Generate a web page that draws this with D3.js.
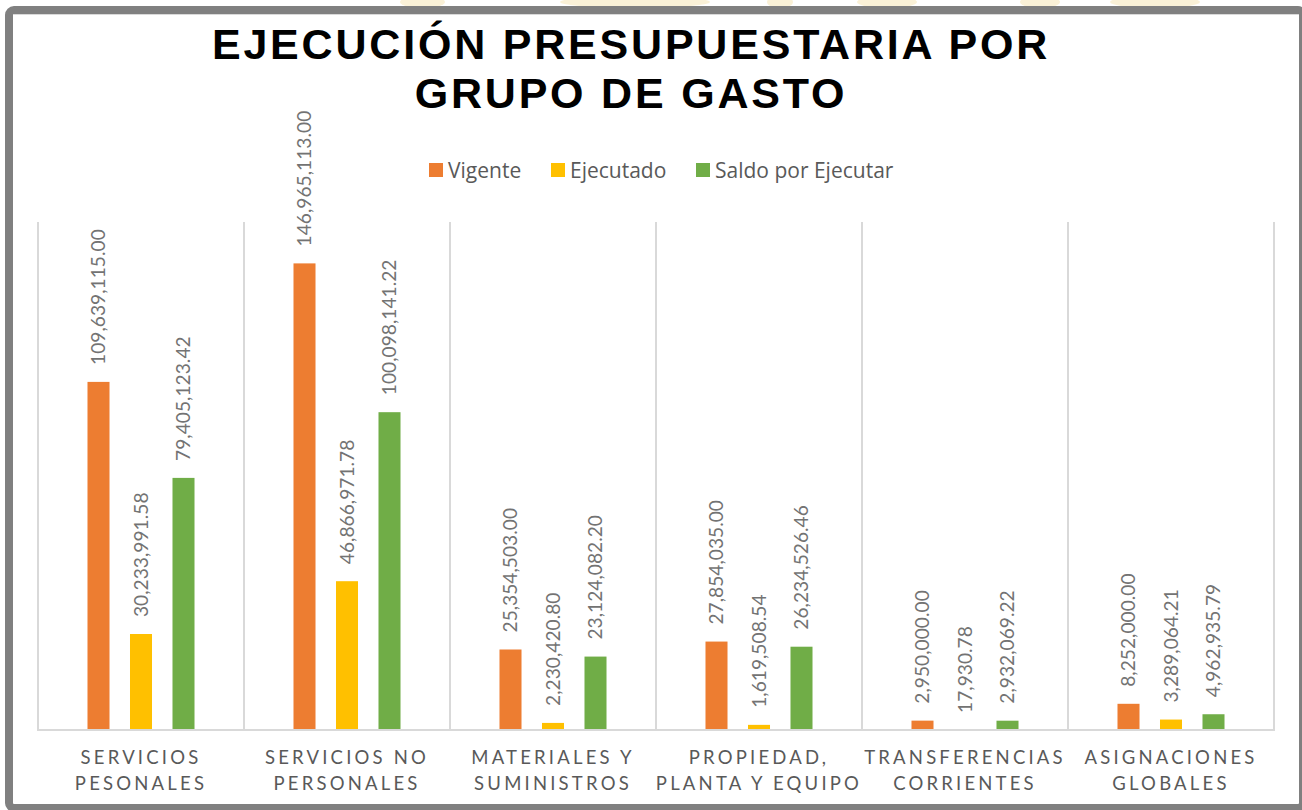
<!DOCTYPE html>
<html><head><meta charset="utf-8">
<script src="https://cdn.jsdelivr.net/npm/d3@7"></script>
<style>html,body{margin:0;padding:0;background:#fff;}svg{display:block;}</style>
</head><body>
<svg id="chart" width="1302" height="810"></svg>
<script>
const categories = [["SERVICIOS","PESONALES"],["SERVICIOS NO","PERSONALES"],["MATERIALES Y","SUMINISTROS"],["PROPIEDAD,","PLANTA Y EQUIPO"],["TRANSFERENCIAS","CORRIENTES"],["ASIGNACIONES","GLOBALES"]];
const seriesNames = ["Vigente","Ejecutado","Saldo por Ejecutar"];
const seriesColors = ["#ED7D31","#FFC000","#70AD47"];
const vigente = [109639115.00,146965113.00,25354503.00,27854035.00,2950000.00,8252000.00];
const ejecutado = [30233991.58,46866971.78,2230420.80,1619508.54,17930.78,3289064.21];
const saldo = [79405123.42,100098141.22,23124082.20,26234526.46,2932069.22,4962935.79];
const yMax = 160000000;

(function(){
const series = [vigente, ejecutado, saldo];
const svg = d3.select("#chart");

// faint watermark at very top
const wm = [[400,45],[560,150],[767,26],[857,60],[1020,40],[1110,90]];
wm.forEach(([x,w])=>svg.append("ellipse").attr("cx",x+w/2).attr("cy",2).attr("rx",w/2).attr("ry",6).attr("fill","#f3dfa6").attr("opacity",0.45));

// frame
svg.append("rect").attr("x",9).attr("y",10).attr("width",1294).attr("height",798)
  .attr("rx",5).attr("fill","#fff").attr("stroke","#808080").attr("stroke-width",8);
svg.append("line").attr("x1",13).attr("x2",1299).attr("y1",14.5).attr("y2",14.5).attr("stroke","#d9d9d9").attr("stroke-width",1);

const pLeft = 38, pRight = 1274, pTop = 222, pBase = 730;
const x0 = d3.scaleBand().domain(d3.range(categories.length)).range([pLeft,pRight]).paddingInner(0).paddingOuter(0);
const gw = x0.bandwidth();
const x1 = d3.scaleBand().domain(d3.range(3)).range([(gw-127.5)/2, gw-(gw-127.5)/2]).paddingInner(0.482).paddingOuter(0.241);
const y = d3.scaleLinear().domain([0,yMax]).range([pBase, pTop]);

// gridlines
const bounds = d3.range(categories.length+1).map(i => i<categories.length ? x0(i) : pRight);
svg.append("g").selectAll("line").data(bounds).join("line")
  .attr("x1",d=>d).attr("x2",d=>d).attr("y1",pTop).attr("y2",pBase)
  .attr("stroke","#d9d9d9").attr("stroke-width",2);
svg.append("line").attr("x1",pLeft-1).attr("x2",pRight+1).attr("y1",pBase).attr("y2",pBase)
  .attr("stroke","#d9d9d9").attr("stroke-width",2);

// bars
const groups = svg.append("g").selectAll("g").data(categories).join("g")
  .attr("transform",(d,i)=>`translate(${x0(i)},0)`);
groups.each(function(c,i){
  const g = d3.select(this);
  series.forEach((s,j)=>{
    const v = s[i];
    g.append("rect").attr("x",x1(j)).attr("width",x1.bandwidth())
      .attr("y",y(v)).attr("height",pBase - y(v) - 1).attr("fill",seriesColors[j]);
    const cx = x1(j) + x1.bandwidth()/2;
    g.append("text").attr("transform",`translate(${cx},${y(v)-17}) rotate(-90)`)
      .attr("text-anchor","start").attr("dy","0.36em")
      .attr("font-family","Lato, 'Open Sans', sans-serif").attr("font-size",19.2)
      .attr("fill","#737373")
      .text(d3.format(",.2f")(v));
  });
  c.forEach((line,k)=>{
    g.append("text").attr("x",gw/2).attr("y",764 + k*26)
      .attr("text-anchor","middle").attr("font-family","Lato, 'Open Sans', sans-serif")
      .attr("font-size",18.5).attr("letter-spacing","3.2px").attr("fill","#595959")
      .text(line);
  });
});

// title
const title = ["EJECUCIÓN PRESUPUESTARIA POR","GRUPO DE GASTO"];
svg.append("g").selectAll("text").data(title).join("text")
  .attr("x",631).attr("y",(d,i)=>59 + i*49).attr("text-anchor","middle")
  .attr("font-family","'Liberation Sans', Arial, sans-serif").attr("font-weight","bold")
  .attr("font-size",43).attr("letter-spacing","2.8px").attr("fill","#000")
  .text(d=>d);

// legend
const legendX = [429, 551, 696];
const lg = svg.append("g").selectAll("g").data(seriesNames).join("g")
  .attr("transform",(d,i)=>`translate(${legendX[i]},163)`);
lg.append("rect").attr("width",14).attr("height",14).attr("fill",(d,i)=>seriesColors[i]);
lg.append("text").attr("x",19).attr("y",14.5).attr("font-family","'Open Sans', Lato, sans-serif")
  .attr("font-size",21).attr("fill","#595959").text(d=>d);
})();
</script>
</body></html>
